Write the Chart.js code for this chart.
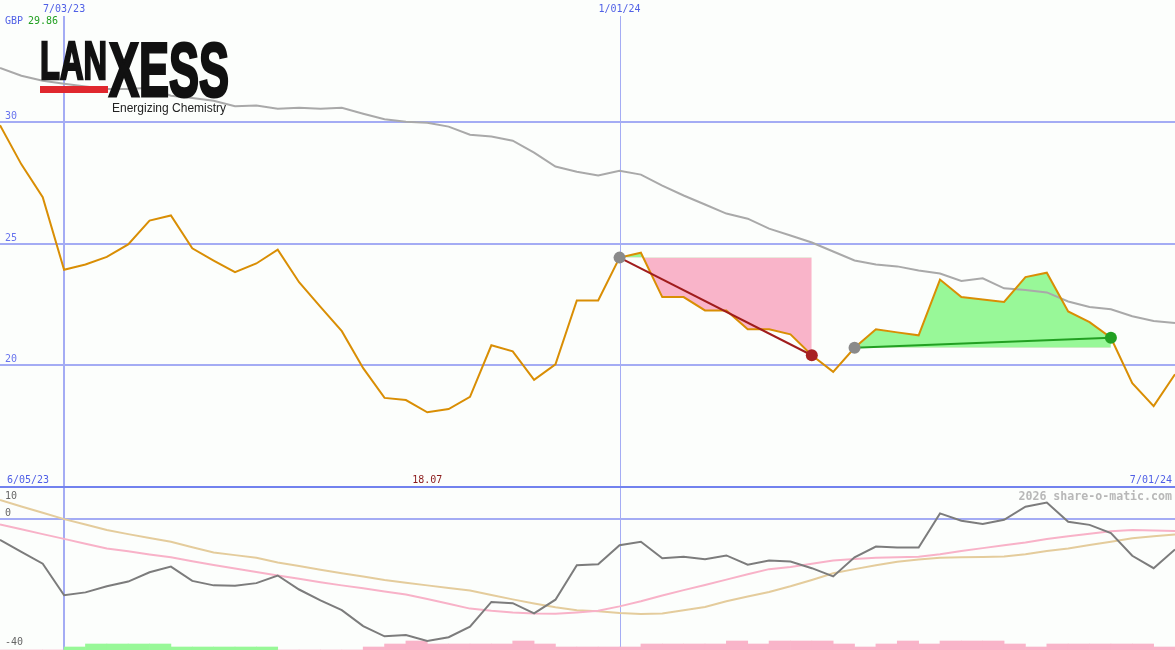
<!DOCTYPE html>
<html><head><meta charset="utf-8">
<script src="https://cdn.jsdelivr.net/npm/chart.js@4.4.1/dist/chart.umd.min.js"></script>
<style>
html,body{margin:0;padding:0;background:#fcfefc;overflow:hidden}
#wrap{position:relative;width:1175px;height:650px;}
#top{position:absolute;left:0;top:0}
#bot{position:absolute;left:0;top:487px}
#sep{position:absolute;left:0;top:486px;width:1175px;height:2px;background:#7282ee}
</style></head><body>
<div id="wrap">
<canvas id="top" width="1175" height="487"></canvas>
<canvas id="bot" width="1175" height="163"></canvas>
<div id="sep"></div>
</div>
<script>
// ---------- data (weekly, index 0..55) ----------
const currency = 'GBP';
const maxPrice = 29.86;
const minPrice = 18.07;
const minPriceIdx = 20;
const markerDates = ['7/03/23', '1/01/24'];
const markerIdx = [3, 29];
const rangeDates = ['6/05/23', '7/01/24'];
const priceTicks = [30, 25, 20];
const oscTicks = [10, 0, -40];

const price = [29.86, 28.25, 26.9, 23.92, 24.14, 24.45, 24.96, 25.94, 26.15, 24.8,
  24.3, 23.82, 24.18, 24.75, 23.41, 22.4, 21.4, 19.88, 18.66, 18.57,
  18.07, 18.2, 18.7, 20.82, 20.57, 19.4, 20.04, 22.66, 22.66, 24.42,
  24.62, 22.8, 22.8, 22.25, 22.25, 21.48, 21.48, 21.27, 20.41, 19.73,
  20.72, 21.48, 21.35, 21.23, 23.52, 22.8, 22.7, 22.6, 23.62, 23.8,
  22.21, 21.77, 21.13, 19.26, 18.32, 19.63];

const priceAvg = [32.21, 31.89, 31.68, 31.56, 31.45, 31.35, 31.35, 31.4, 31.07, 30.98,
  30.86, 30.64, 30.67, 30.53, 30.57, 30.53, 30.57, 30.33, 30.1, 30.0,
  29.96, 29.8, 29.47, 29.39, 29.22, 28.73, 28.16, 27.95, 27.79, 27.99,
  27.83, 27.38, 26.97, 26.6, 26.23, 26.02, 25.61, 25.33, 25.04, 24.67,
  24.3, 24.14, 24.06, 23.89, 23.77, 23.46, 23.57, 23.16, 23.09, 22.99,
  22.62, 22.39, 22.3, 22.01, 21.82, 21.73];

const osc = [-6.4, -10.2, -13.9, -23.8, -22.9, -21, -19.5, -16.6, -14.8, -19.3,
  -20.7, -20.8, -20, -17.6, -22, -25.4, -28.5, -33.5, -36.7, -36.3,
  -38.2, -37, -33.7, -25.9, -26.3, -29.5, -25.2, -14.4, -14.1, -8.1,
  -7, -12.2, -11.7, -12.5, -11.3, -14.2, -12.9, -13.2, -15.3, -17.9,
  -11.9, -8.5, -8.8, -8.8, 1.9, -0.4, -1.4, -0.1, 4, 5.3,
  -0.7, -1.7, -4.3, -11.4, -15.3, -9.4];

const oscAvgFast = [-1.6, -3.1, -4.6, -6.1, -7.6, -9.1, -10.0, -11.0, -11.9, -13.1,
  -14.3, -15.4, -16.5, -17.6, -18.6, -19.7, -20.7, -21.6, -22.6, -23.6,
  -25.0, -26.5, -28.0, -28.7, -29.2, -29.5, -29.6, -29.2, -28.7, -27.3,
  -25.7, -23.9, -22.2, -20.6, -18.9, -17.2, -15.6, -14.9, -13.9, -12.9,
  -12.4, -12.0, -11.9, -11.7, -10.9, -9.9, -9.0, -8.1, -7.2, -6.1,
  -5.3, -4.5, -3.7, -3.3, -3.5, -3.6];

const oscAvgSlow = [6.1, 4.1, 2.1, 0.1, -1.6, -3.3, -4.6, -5.8, -7.0, -8.7,
  -10.4, -11.2, -12.0, -13.5, -14.6, -15.8, -16.9, -17.9, -19.0, -19.9,
  -20.7, -21.5, -22.3, -23.7, -25.1, -26.4, -27.6, -28.5, -28.8, -29.4,
  -29.7, -29.5, -28.5, -27.5, -25.7, -24.2, -22.8, -21.0, -19.0, -16.9,
  -15.6, -14.4, -13.3, -12.6, -12.0, -11.9, -11.8, -11.6, -10.9, -9.9,
  -9.1, -8.0, -7.0, -5.9, -5.3, -4.7];

// signal strength per week (+ bullish / - bearish)
const signal = [0, 0, 0, 1, 2, 2, 2, 2, 1, 1,
  1, 1, 1, 0, 0, 0, 0, -1, -2, -3,
  -2, -2, -2, -2, -3, -2, -1, -1, -1, -1,
  -2, -2, -2, -2, -3, -2, -3, -3, -3, -2,
  -1, -2, -3, -2, -3, -3, -3, -2, -1, -2,
  -2, -2, -2, -2, -1];

const tradeEntry = [29, 40];
const tradeExit = [38, 52];

// ---------- styles ----------
const C = {
  bg: '#fcfefc', grid: '#a4acf4', blue: '#5060e6', ytick: '#6874ee',
  price: '#d98e04', avg: '#a9a9a9', osc: '#7c7c7c', fast: '#f8b2c8', slow: '#e4cc9c',
  up: '#98f898', down: '#f9b4c9', lossLine: '#a01c1c', lossDot: '#a82222',
  winLine: '#22a022', winDot: '#22a022', entryDot: '#8a8a8a'
};
const MONO = '"DejaVu Sans Mono", monospace';

const pts = arr => arr.map((v, i) => ({x: i, y: v}));
function seg(a, b) { const r = []; for (let i = a; i <= b; i++) r.push({x: i, y: price[i]}); return r; }
function lvl(a, b) { const r = []; for (let i = a; i <= b; i++) r.push({x: i, y: price[a]}); return r; }

const datasets = [
  {data: pts(price), borderColor: C.price, borderWidth: 2, pointRadius: 0, order: 1},
  {data: pts(priceAvg), borderColor: C.avg, borderWidth: 2, pointRadius: 0, order: 2}
];
tradeEntry.forEach((a, k) => {
  const b = tradeExit[k];
  const win = price[b] >= price[a];
  const lvIndex = datasets.length;
  datasets.push({data: lvl(a, b), borderColor: 'rgba(0,0,0,0)', borderWidth: 0, pointRadius: 0, fill: false, order: 4});
  datasets.push({data: seg(a, b), borderColor: 'rgba(0,0,0,0)', borderWidth: 0, pointRadius: 0,
    fill: {target: lvIndex, above: C.up, below: C.down}, order: 3});
  datasets.push({data: [{x: a, y: price[a]}, {x: b, y: price[b]}],
    borderColor: win ? C.winLine : C.lossLine, borderWidth: 2,
    pointRadius: 6, pointHoverRadius: 6, pointBorderWidth: 0,
    pointBackgroundColor: [C.entryDot, win ? C.winDot : C.lossDot], order: 0});
});

function vLines(chart, top) {
  const ctx = chart.ctx, x = chart.scales.x, h = chart.height;
  ctx.save();
  ctx.strokeStyle = C.grid;
  markerIdx.forEach((m, k) => {
    const px = x.getPixelForValue(m);
    ctx.lineWidth = k === 0 ? 2 : 1;
    const xx = k === 0 ? Math.round(px) : Math.round(px) + 0.5;
    ctx.beginPath(); ctx.moveTo(xx, top); ctx.lineTo(xx, h); ctx.stroke();
  });
  ctx.restore();
}

const topPlugin = {
  id: 'topdeco',
  beforeDatasetsDraw(chart) {
    const ctx = chart.ctx, y = chart.scales.y;
    ctx.save();
    ctx.strokeStyle = C.grid; ctx.lineWidth = 2;
    priceTicks.forEach(v => {
      const py = Math.round(y.getPixelForValue(v));
      ctx.beginPath(); ctx.moveTo(0, py); ctx.lineTo(chart.width, py); ctx.stroke();
    });
    ctx.restore();
    vLines(chart, 16);
  },
  afterDraw(chart) {
    const ctx = chart.ctx, x = chart.scales.x, y = chart.scales.y;
    ctx.save();
    ctx.font = '10px ' + MONO;
    ctx.textBaseline = 'alphabetic';
    // y tick labels
    ctx.fillStyle = C.ytick; ctx.textAlign = 'left';
    priceTicks.forEach(v => ctx.fillText(String(v), 5, y.getPixelForValue(v) - 3));
    // marker dates
    ctx.fillStyle = C.blue; ctx.textAlign = 'center';
    markerIdx.forEach((m, k) => ctx.fillText(markerDates[k], x.getPixelForValue(m), 12));
    // currency + max price
    ctx.textAlign = 'left';
    ctx.fillStyle = C.blue; ctx.fillText(currency, 5, 24);
    ctx.fillStyle = '#22a022'; ctx.fillText(maxPrice.toFixed(2), 28, 24);
    // bottom labels
    ctx.fillStyle = C.blue; ctx.textAlign = 'left';
    ctx.fillText(rangeDates[0], 7, 483);
    ctx.textAlign = 'right';
    ctx.fillText(rangeDates[1], 1172, 483);
    ctx.fillStyle = '#8b1a1a'; ctx.textAlign = 'center';
    ctx.fillText(minPrice.toFixed(2), x.getPixelForValue(minPriceIdx), 483);
    // logo
    ctx.textAlign = 'left';
    ctx.fillStyle = '#111111'; ctx.strokeStyle = '#111111'; ctx.lineJoin = 'miter';
    ctx.font = 'bold 54px "Liberation Sans Narrow","Liberation Sans",Arial,sans-serif';
    let w = ctx.measureText('LAN').width;
    ctx.setTransform(67 / w, 0, 0, 1, 40, 79);
    ctx.lineWidth = 2.5;
    ctx.fillText('LAN', 0, 0); ctx.strokeText('LAN', 0, 0);
    ctx.setTransform(1, 0, 0, 1, 0, 0);
    ctx.font = 'bold 76px "Liberation Sans Narrow","Liberation Sans",Arial,sans-serif';
    w = ctx.measureText('XESS').width;
    ctx.setTransform(120 / w, 0, 0, 1, 109, 96);
    ctx.lineWidth = 3;
    ctx.fillText('XESS', 0, 0); ctx.strokeText('XESS', 0, 0);
    ctx.setTransform(1, 0, 0, 1, 0, 0);
    ctx.fillStyle = '#e0282e';
    ctx.fillRect(40, 86, 68, 7);
    ctx.fillStyle = '#222222';
    ctx.font = '12px "Liberation Sans", Arial, sans-serif';
    ctx.fillText('Energizing Chemistry', 112, 112);
    ctx.restore();
  }
};

const baseOpts = {
  responsive: false, animation: false, devicePixelRatio: 1, events: [],
  layout: {padding: 0, autoPadding: false},
  plugins: {legend: {display: false}, tooltip: {enabled: false}},
  elements: {line: {tension: 0}, point: {radius: 0}}
};

new Chart(document.getElementById('top'), {
  type: 'line',
  data: {datasets},
  options: Object.assign({}, baseOpts, {
    scales: {
      x: {type: 'linear', min: 0, max: 55, display: false},
      y: {min: 15, max: 35, display: false}
    }
  }),
  plugins: [topPlugin]
});

const botPlugin = {
  id: 'botdeco',
  beforeDatasetsDraw(chart) {
    const ctx = chart.ctx, y = chart.scales.y;
    ctx.save();
    ctx.strokeStyle = C.grid; ctx.lineWidth = 2;
    const py = Math.round(y.getPixelForValue(0));
    ctx.beginPath(); ctx.moveTo(0, py); ctx.lineTo(chart.width, py); ctx.stroke();
    ctx.restore();
    vLines(chart, 0);
  },
  afterDraw(chart) {
    const ctx = chart.ctx, y = chart.scales.y;
    ctx.save();
    ctx.font = '10px ' + MONO;
    ctx.fillStyle = '#666666'; ctx.textAlign = 'left';
    ctx.fillText(String(oscTicks[0]), 5, 12);
    ctx.fillText(String(oscTicks[1]), 5, y.getPixelForValue(0) - 3);
    ctx.fillText(String(oscTicks[2]), 5, 158);
    ctx.font = 'bold 11.6px ' + MONO;
    ctx.fillStyle = '#b8b8b8'; ctx.textAlign = 'right';
    ctx.fillText('2026 share-o-matic.com', 1172, 13);
    ctx.restore();
  }
};

new Chart(document.getElementById('bot'), {
  type: 'line',
  data: {datasets: [
    {data: pts(osc), borderColor: C.osc, borderWidth: 2, pointRadius: 0, order: 0},
    {data: pts(oscAvgFast), borderColor: C.fast, borderWidth: 2, pointRadius: 0, order: 1},
    {data: pts(oscAvgSlow), borderColor: C.slow, borderWidth: 2, pointRadius: 0, order: 2},
    {type: 'bar', yAxisID: 'yb', data: signal.map((v, i) => ({x: i + 0.5, y: Math.abs(v)})),
      backgroundColor: signal.map(v => v > 0 ? C.up : C.down), borderWidth: 0,
      barPercentage: 1, categoryPercentage: 1, order: 5}
  ]},
  options: Object.assign({}, baseOpts, {
    scales: {
      x: {type: 'linear', min: 0, max: 55, display: false, offset: false},
      y: {min: -41, max: 10.2, display: false},
      yb: {min: 0, max: 163 / 3, display: false}
    }
  }),
  plugins: [botPlugin]
});
</script>
</body></html>
